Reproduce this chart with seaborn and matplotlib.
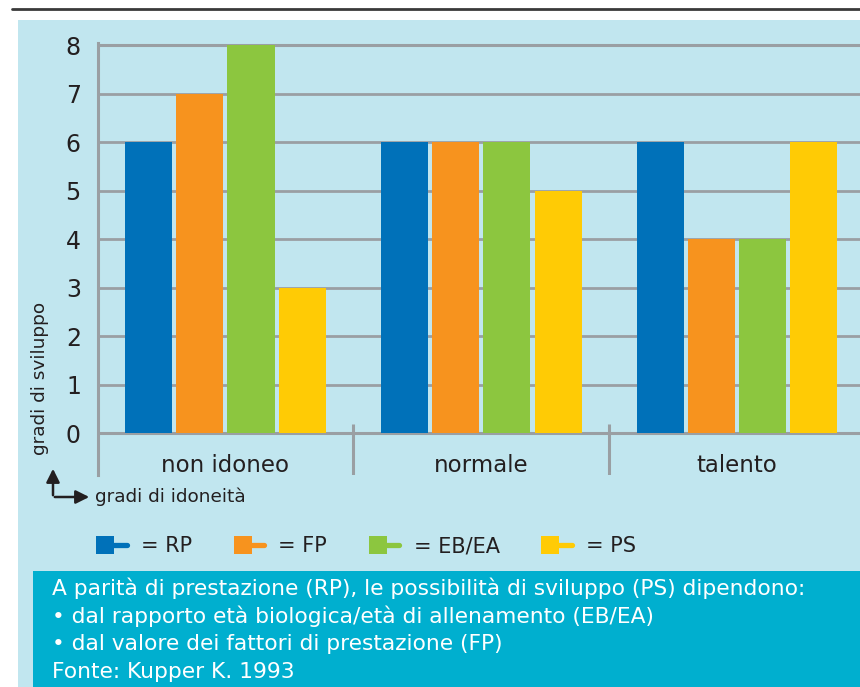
import matplotlib
matplotlib.use("Agg")
import matplotlib.pyplot as plt
from matplotlib.patches import Rectangle, FancyArrowPatch
from matplotlib.lines import Line2D
from matplotlib.legend_handler import HandlerBase
import seaborn as sns
import pandas as pd

# --- data ---------------------------------------------------------------
categorie = ["non idoneo", "normale", "talento"]
serie = ["RP", "FP", "EB/EA", "PS"]
valori_RP = [6, 6, 6]
valori_FP = [7, 6, 4]
valori_EBEA = [8, 6, 4]
valori_PS = [3, 5, 6]
y_ticks = [0, 1, 2, 3, 4, 5, 6, 7, 8]

colori = ["#0071b9", "#f7931e", "#8cc63f", "#ffcb05"]
bg_chiaro = "#c1e6ef"
bg_scuro = "#00afcf"
grigio = "#9a9fa3"
testo = "#231f20"

df = pd.DataFrame({
    "categoria": categorie * 4,
    "serie": [s for s in serie for _ in categorie],
    "valore": valori_RP + valori_FP + valori_EBEA + valori_PS,
})

sns.set_theme(style="white")
plt.rcParams["font.family"] = ["DejaVu Sans"]

W, H = 860, 687
fig = plt.figure(figsize=(W / 100, H / 100), dpi=100)
fig.patch.set_facecolor("white")


def fx(px):
    return px / W


def fy(py):
    return 1 - py / H


# background panels and rule at the top
fig.patches.append(Rectangle((fx(18), 0), fx(W - 18), fy(20), transform=fig.transFigure,
                             facecolor=bg_chiaro, edgecolor="none", zorder=-2))
fig.patches.append(Rectangle((fx(33), 0), fx(W - 33), fy(571), transform=fig.transFigure,
                             facecolor=bg_scuro, edgecolor="none", zorder=-1))
fig.lines.append(Line2D([fx(12), 1], [fy(9), fy(9)], transform=fig.transFigure,
                        color="#3a3a3a", lw=2))

# axes geometry
y_lo, y_hi = -0.85, 8.04
px_unit = 48.5
top_px = 45.3 - (y_hi - 8) * px_unit
bot_px = top_px + (y_hi - y_lo) * px_unit
ax = fig.add_axes([fx(97.5), fy(bot_px), 1 - fx(97.5), (bot_px - top_px) / H])
ax.set_facecolor("none")
ax.set_zorder(2)

sns.barplot(data=df, x="categoria", y="valore", hue="serie", palette=colori,
            width=0.8, gap=0.08, saturation=1, legend=False, ax=ax, zorder=3,
            linewidth=0, edgecolor="none")

ax.set_xlim(-0.5, 2.48)
ax.set_ylim(y_lo, y_hi)
for s in ["top", "right", "bottom"]:
    ax.spines[s].set_visible(False)
ax.spines["left"].set_color(grigio)
ax.spines["left"].set_linewidth(2.2)

# horizontal grid lines 0..8
for v in y_ticks:
    ax.axhline(v, color=grigio, lw=2.2 if v in (0, 8) else 2.0, zorder=1)

# group separators below the baseline
for xs in [0.5, 1.5]:
    ax.plot([xs, xs], [y_lo, 0.19], color=grigio, lw=2.2, zorder=1,
            solid_capstyle="butt")

ax.set_yticks(y_ticks)
ax.set_yticklabels([str(v) for v in y_ticks], fontsize=17, color=testo)
ax.tick_params(axis="y", length=0, pad=12)
ax.set_xticks([])
ax.set_xlabel("")
ax.set_ylabel("")

for i, c in enumerate(categorie):
    ax.text(i, -0.66, c, ha="center", va="center", fontsize=16.5, color=testo)

# axis descriptions with arrows
fig.text(fx(40), fy(378), "gradi di sviluppo", rotation=90, ha="center", va="center",
         fontsize=13.3, color=testo)
fig.text(fx(95), fy(497), "gradi di idoneità", ha="left", va="center",
         fontsize=13.3, color=testo)
fig.add_artist(FancyArrowPatch(
    (fx(53), fy(498)), (fx(53), fy(466)), transform=fig.transFigure,
    arrowstyle="-|>,head_length=8,head_width=4", color=testo, lw=1.8, mutation_scale=1))
fig.add_artist(FancyArrowPatch(
    (fx(52), fy(497)), (fx(92), fy(497)), transform=fig.transFigure,
    arrowstyle="-|>,head_length=8,head_width=4", color=testo, lw=1.8, mutation_scale=1))


# legend swatch: a square with a short tail
class HandlerCoda(HandlerBase):
    def create_artists(self, legend, orig_handle, xdescent, ydescent, width, height,
                       fontsize, trans):
        col = orig_handle.get_facecolor()
        lato = width * 0.54
        y0 = -ydescent + height / 2 - lato / 2
        sq = Rectangle((-xdescent, y0), lato, lato,
                       facecolor=col, edgecolor="none", transform=trans)
        ln = Line2D([-xdescent + lato - 1, -xdescent + width - 2],
                    [-ydescent + height * 0.5, -ydescent + height * 0.5],
                    color=col, lw=3.8, solid_capstyle="round", transform=trans)
        return [sq, ln]


handles = [Rectangle((0, 0), 1, 1, facecolor=c) for c in colori]
leg = fig.legend(handles, ["= " + s for s in serie], loc="center left",
                 bbox_to_anchor=(fx(96), fy(546)), ncol=4, frameon=False,
                 borderpad=0, borderaxespad=0,
                 handler_map={Rectangle: HandlerCoda()}, handlelength=1.6,
                 handleheight=0.9, handletextpad=0.55, columnspacing=2.0,
                 fontsize=15, labelcolor=testo)

# caption in the dark box
righe = [
    "A parità di prestazione (RP), le possibilità di sviluppo (PS) dipendono:",
    "• dal rapporto età biologica/età di allenamento (EB/EA)",
    "• dal valore dei fattori di prestazione (FP)",
    "Fonte: Kupper K. 1993",
]
for k, r in enumerate(righe):
    fig.text(fx(52), fy(595 + k * 27.6), r, ha="left", va="baseline",
             fontsize=15.7, color="white")

fig.savefig("out.png", dpi=100, facecolor=fig.get_facecolor())
